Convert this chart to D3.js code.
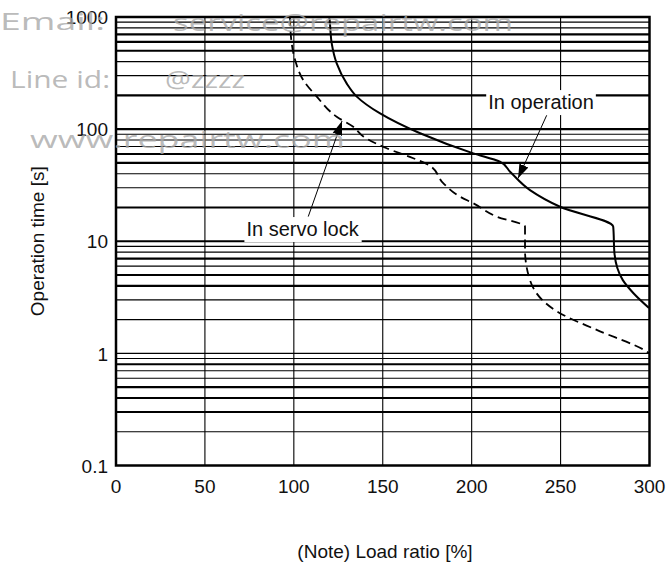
<!DOCTYPE html>
<html>
<head>
<meta charset="utf-8">
<script src="https://cdn.jsdelivr.net/npm/d3@7"></script>
<style>
  body { margin: 0; background: #fff; }
  svg { display: block; font-family: "Liberation Sans", Arial, sans-serif; }
</style>
</head>
<body>
<div id="chart"></div>
<script>
// Overload curves: load ratio [%] vs operation time [s]
const operationLoad = [120, 120.3, 121.3, 124.1, 129.7, 135.4, 148.5, 171, 200.9, 215.9, 221.6, 232.8, 249.7, 279.6, 280.3, 285, 291, 299.7];
const operationTime = [1000, 880, 582, 386, 256, 195, 138, 91.8, 60.8, 51.2, 41.7, 28.6, 20.3, 13.5, 7.8, 4.5, 3.44, 2.54];

const servoLoad = [97.8, 98.8, 100.7, 105.3, 112.9, 124.1, 133.4, 139.1, 152.2, 167.2, 176.6, 184, 193.4, 200.9, 214, 230, 230, 232.8, 251.5, 270.3, 298.4, 300];
const servoTime = [1000, 582, 414, 274, 195, 129, 105, 86, 67.5, 55, 47, 33, 25, 21.8, 16.6, 13.5, 8.35, 4.5, 2.2, 1.62, 1.04, 1.0];

const xTicks = [0, 50, 100, 150, 200, 250, 300];
const yTicks = [0.1, 1, 10, 100, 1000];
const yTickLabels = ["0.1", "1", "10", "100", "1000"];
// grid lines that came out heavier in the scan
const heavyGrid = [700, 600, 500, 200, 100, 60, 50, 20, 10, 7, 5, 4, 0.8, 0.5, 0.4, 0.3];

// annotations, in data units: label centre, arrow start, arrow tip
const opNote = { text: "In operation", lx: 239, ly: 175, sx: 242.2, sy: 133, tx: 226.1, ty: 36.4 };
const servoNote = { text: "In servo lock", lx: 104.9, ly: 12.9, sx: 108.1, sy: 16.6, tx: 127.1, ty: 118 };

const W = 667, H = 566;
const margin = { top: 17, right: 17.5, bottom: 100.5, left: 116 };

const svg = d3.select("#chart").append("svg")
    .attr("width", W)
    .attr("height", H);

const x = d3.scaleLinear()
    .domain([0, 300])
    .range([margin.left, W - margin.right]);

const y = d3.scaleLog()
    .domain([0.1, 1000])
    .range([H - margin.bottom, margin.top]);

// grid
const grid = svg.append("g");
grid.selectAll("line.h")
    .data(y.ticks())
    .join("line")
    .attr("class", "h")
    .attr("x1", x(0)).attr("x2", x(300))
    .attr("y1", d => y(d)).attr("y2", d => y(d))
    .attr("stroke", "#000")
    .attr("stroke-width", d => heavyGrid.some(h => Math.abs(h - d) < 1e-9) ? 2.2 : 1.1);

grid.selectAll("line.v")
    .data(xTicks.slice(1, -1))
    .join("line")
    .attr("class", "v")
    .attr("x1", d => x(d)).attr("x2", d => x(d))
    .attr("y1", y(0.1)).attr("y2", y(1000))
    .attr("stroke", "#000")
    .attr("stroke-width", 1.1);

// curves (time always falls as load rises, so monotone in y)
const line = d3.line()
    .x(d => x(d[0]))
    .y(d => y(d[1]))
    .curve(d3.curveMonotoneY);

svg.append("path")
    .datum(operationLoad.map((v, i) => [v, operationTime[i]]))
    .attr("d", line)
    .attr("fill", "none")
    .attr("stroke", "#000")
    .attr("stroke-width", 2);

svg.append("path")
    .datum(servoLoad.map((v, i) => [v, servoTime[i]]))
    .attr("d", line)
    .attr("fill", "none")
    .attr("stroke", "#000")
    .attr("stroke-width", 1.8)
    .attr("stroke-dasharray", "9,5");

// frame
svg.append("rect")
    .attr("x", x(0)).attr("y", y(1000))
    .attr("width", x(300) - x(0))
    .attr("height", y(0.1) - y(1000))
    .attr("fill", "none")
    .attr("stroke", "#000")
    .attr("stroke-width", 2.5);

// tick labels
svg.append("g")
    .selectAll("text")
    .data(yTicks)
    .join("text")
    .attr("x", 108)
    .attr("y", d => y(d))
    .attr("dy", "0.38em")
    .attr("text-anchor", "end")
    .attr("font-size", 19)
    .attr("fill", "#111")
    .text((d, i) => yTickLabels[i]);

svg.append("g")
    .selectAll("text")
    .data(xTicks)
    .join("text")
    .attr("x", d => x(d))
    .attr("y", 493)
    .attr("text-anchor", "middle")
    .attr("font-size", 19)
    .attr("fill", "#111")
    .text(d => d);

// axis titles
svg.append("text")
    .attr("transform", "translate(44," + ((y(0.1) + y(1000)) / 2) + ") rotate(-90)")
    .attr("text-anchor", "middle")
    .attr("font-size", 19)
    .attr("fill", "#111")
    .text("Operation time [s]");

svg.append("text")
    .attr("x", 385)
    .attr("y", 558)
    .attr("text-anchor", "middle")
    .attr("font-size", 19)
    .attr("fill", "#111")
    .text("(Note) Load ratio [%]");

// annotations
svg.append("defs").append("marker")
    .attr("id", "head")
    .attr("viewBox", "0 0 10 10")
    .attr("refX", 10).attr("refY", 5)
    .attr("markerWidth", 14).attr("markerHeight", 14)
    .attr("markerUnits", "userSpaceOnUse")
    .attr("orient", "auto")
    .append("path")
    .attr("d", "M0,1.5 L10,5 L0,8.5 Z")
    .attr("fill", "#000");

[opNote, servoNote].forEach(function(n) {
    svg.append("line")
        .attr("x1", x(n.sx)).attr("y1", y(n.sy))
        .attr("x2", x(n.tx)).attr("y2", y(n.ty))
        .attr("stroke", "#000")
        .attr("stroke-width", 1)
        .attr("marker-end", "url(#head)");

    const g = svg.append("g");
    const t = g.append("text")
        .attr("x", x(n.lx))
        .attr("y", y(n.ly))
        .attr("dy", "0.36em")
        .attr("text-anchor", "middle")
        .attr("font-size", 20)
        .attr("fill", "#111")
        .text(n.text);
    const bb = t.node().getBBox();
    g.insert("rect", "text")
        .attr("x", bb.x - 2).attr("y", bb.y - 1)
        .attr("width", bb.width + 4).attr("height", bb.height + 3)
        .attr("fill", "#fff");
});

// watermark text on top of the scan
const wm = svg.append("g")
    .attr("fill", "#a8a8a8")
    .attr("fill-opacity", 0.8)
    .attr("font-family", "'Open Sans', sans-serif")
    .attr("font-size", 24);
const marks = [
    ["Email:", 0, 30, 105],
    ["service@repairtw.com", 173, 31, 340],
    ["Line id:", 10, 88, 100],
    ["@zzzz", 165, 88, 80],
    ["www.repairtw.com", 30, 148, 315]
];
marks.forEach(function(m) {
    wm.append("text")
        .attr("x", m[1]).attr("y", m[2])
        .attr("textLength", m[3])
        .attr("lengthAdjust", "spacingAndGlyphs")
        .text(m[0]);
});
</script>
</body>
</html>
